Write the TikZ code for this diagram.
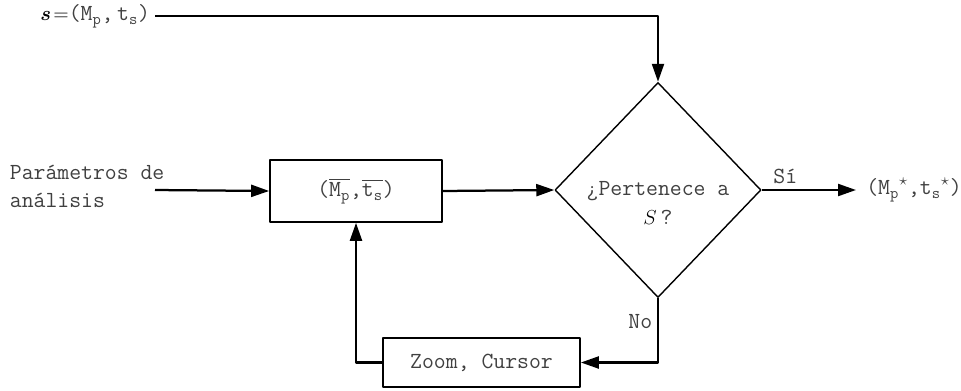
\documentclass[tikz,border=0pt]{standalone}
\usepackage{fontspec}
\usepackage{amsmath}
\usetikzlibrary{arrows.meta,shapes.geometric,positioning}
\newcommand{\Mp}{\text{M}_{\text{p}}}
\newcommand{\ts}{\text{t}_{\text{s}}}
\tikzset{
  blk/.style={draw,line width=1.2pt,text=black!75},
  dec/.style={draw,diamond,line width=1pt,inner sep=0pt,aspect=0.95,
    minimum width=5.15cm,minimum height=5.375cm},
  txt/.style={text=black!75},
  flow/.style={->,line width=1.6pt}
}
\begin{document}
\begin{tikzpicture}[x=0.025cm,y=-0.025cm,font=\ttfamily\fontsize{16.4}{20}\selectfont,
  line join=round,>={Triangle[length=4.5mm,width=3mm]}]
\useasboundingbox (0,0) rectangle (961,390);
% blocks
\node[blk,minimum width=4.3cm,minimum height=1.55cm] (mt) at (356,191)
  {($\overline{\Mp}$,$\overline{\ts}$)};
\node[dec] (dec) at (658,190) {};
\node[txt,align=center] (ask) at (658,203)
  {¿Pertenece a\\{\color{black}\Large$S$}\,?};
\node[blk,minimum width=4.925cm,minimum height=1.225cm] (zc) at (481.5,362.5)
  {Zoom, Cursor};
% texts
\node[txt,anchor=west,align=left] (par) at (5,186) {Parámetros de\\análisis};
\node[txt,anchor=east] (set) at (155,16)
  {{\color{black}\Large$\boldsymbol{s}\!=$}($\Mp$,\,$\ts$)};
\node[txt,anchor=west,inner sep=0pt] (out) at (866,190)
  {($\Mp{}^{\star}$,$\ts{}^{\star}$)};
\coordinate (in) at (155,190);
% connectors
\draw[flow] (set.east) -- (dec.north |- set.east) -- (dec.north);
\draw[flow] (in) -- (mt.west);
\draw[flow] (mt.east) -- (dec.west);
\draw[flow] (dec.east) -- node[txt,above,pos=0.25] {Sí} ([xshift=-0.25cm]out.west);
\draw[flow] (dec.south) |- node[txt,left,pos=0.18] {No} (zc.east);
\draw[flow] (zc.west) -| (mt.south);
\end{tikzpicture}
\end{document}
